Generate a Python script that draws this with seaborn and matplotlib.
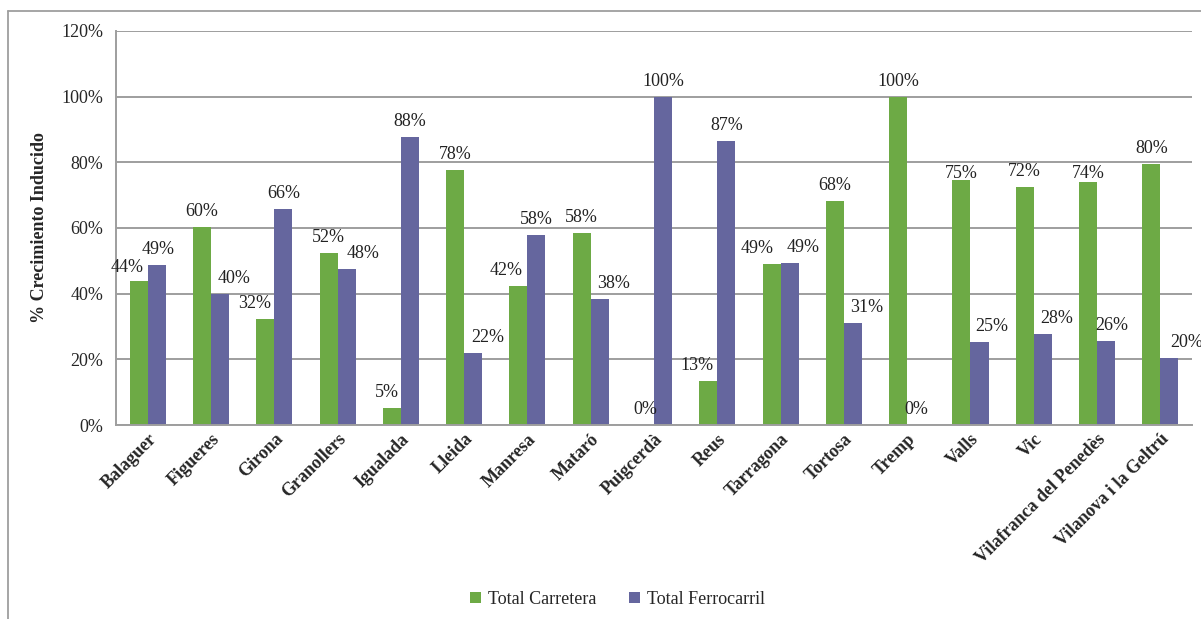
import matplotlib
matplotlib.use("Agg")
import matplotlib.pyplot as plt
from matplotlib.lines import Line2D
from matplotlib.patches import Patch
from matplotlib.ticker import PercentFormatter
import seaborn as sns
import pandas as pd
import numpy as np

cities = ["Balaguer", "Figueres", "Girona", "Granollers", "Igualada", "Lleida",
          "Manresa", "Mataró", "Puigcerdà", "Reus", "Tarragona", "Tortosa",
          "Tremp", "Valls", "Vic", "Vilafranca del Penedès", "Vilanova i la Geltrú"]
carretera = [44.0, 60.2, 32.3, 52.4, 5.2, 77.6, 42.3, 58.4, 0.0, 13.4, 49.0, 68.1,
             100.0, 74.7, 72.4, 74.1, 79.6]
ferrocarril = [48.6, 40.0, 65.9, 47.6, 87.6, 22.0, 57.8, 38.4, 100.0, 86.6, 49.4, 31.2,
               0.0, 25.4, 27.6, 25.7, 20.4]
series_names = ["Total Carretera", "Total Ferrocarril"]
colors = ["#6DAA45", "#65669E"]

# manual label nudges (pixels), as in the original chart: (series index, city index) -> (dx, dy)
label_nudge = {
    (0, 0): (-12, -2), (1, 0): (1, 0), (1, 1): (14, 0), (0, 2): (-11, 0),
    (1, 3): (17, 0), (0, 4): (-5, 0), (1, 5): (15, 0), (0, 6): (-12, 0),
    (1, 7): (14, 0), (0, 9): (-11, 0), (0, 10): (-14, 0), (1, 10): (14, 0),
    (1, 11): (14, 0), (0, 13): (0, -9), (1, 13): (12, 0), (1, 14): (14, 0),
    (0, 15): (0, -7), (1, 15): (6, 0), (1, 16): (17, 0),
}

df = pd.DataFrame({
    "Ciudad": cities * 2,
    "Serie": [series_names[0]] * len(cities) + [series_names[1]] * len(cities),
    "Valor": carretera + ferrocarril,
})

sns.set_style("white")
plt.rcParams["font.family"] = ["Liberation Serif", "DejaVu Serif"]

fig = plt.figure(figsize=(12.01, 6.19), dpi=100)
ax = fig.add_axes([0.0966, 0.3134, 0.8959, 0.6366])

sns.barplot(data=df, x="Ciudad", y="Valor", hue="Serie", palette=colors,
            width=0.57, ax=ax, legend=False, saturation=1, linewidth=0)

px2pt = 72 / 100
for si, container in enumerate(ax.containers):
    for ci, bar in enumerate(container):
        h = bar.get_height()
        dx, dy = label_nudge.get((si, ci), (0, 0))
        ax.annotate(f"{int(round(h))}%",
                    (bar.get_x() + bar.get_width() / 2, h),
                    xytext=(dx * px2pt, (11 + dy) * px2pt), textcoords="offset points",
                    ha="center", va="baseline", fontsize=13, color="#222222",
                    annotation_clip=False)

ax.set_ylim(0, 120)
ax.set_xlim(-0.5, len(cities) - 0.5)
ax.set_yticks(np.arange(0, 121, 20))
ax.yaxis.set_major_formatter(PercentFormatter(decimals=0))
ax.grid(axis="y", color="#9E9E9E", linewidth=1.4)
ax.set_axisbelow(True)
for s in ["top", "right"]:
    ax.spines[s].set_visible(False)
for s in ["left", "bottom"]:
    ax.spines[s].set_color("#9E9E9E")
    ax.spines[s].set_linewidth(1.4)

ax.tick_params(axis="y", length=5, color="#9E9E9E", width=1.2, labelsize=13, pad=4)
ax.tick_params(axis="x", which="major", length=0, labelsize=13, pad=4)
ax.set_xticks(np.arange(-0.5, len(cities), 1), minor=True)
ax.tick_params(axis="x", which="minor", length=5, color="#9E9E9E", width=1.2)
for lab in ax.get_xticklabels():
    lab.set_rotation(45)
    lab.set_ha("right")
    lab.set_rotation_mode("anchor")
    lab.set_fontweight("bold")

ax.set_xlabel("")
ax.set_ylabel("% Crecimiento Inducido", fontsize=13, fontweight="bold", labelpad=10)

handles = [Patch(facecolor=c, edgecolor="none") for c in colors]
fig.legend(handles, series_names, loc="center", bbox_to_anchor=(0.514, 0.032),
           ncol=2, frameon=False, fontsize=13, handlelength=0.6, handleheight=0.6,
           handletextpad=0.4, columnspacing=1.8)

# outer frame lines
fig.add_artist(Line2D([8 / 1201, 1.0], [1 - 11 / 619, 1 - 11 / 619],
                      transform=fig.transFigure, color="#9E9E9E", linewidth=1.3))
fig.add_artist(Line2D([8 / 1201, 8 / 1201], [0, 1 - 11 / 619],
                      transform=fig.transFigure, color="#9E9E9E", linewidth=1.3))

fig.savefig("out.png", dpi=100, facecolor="white")
